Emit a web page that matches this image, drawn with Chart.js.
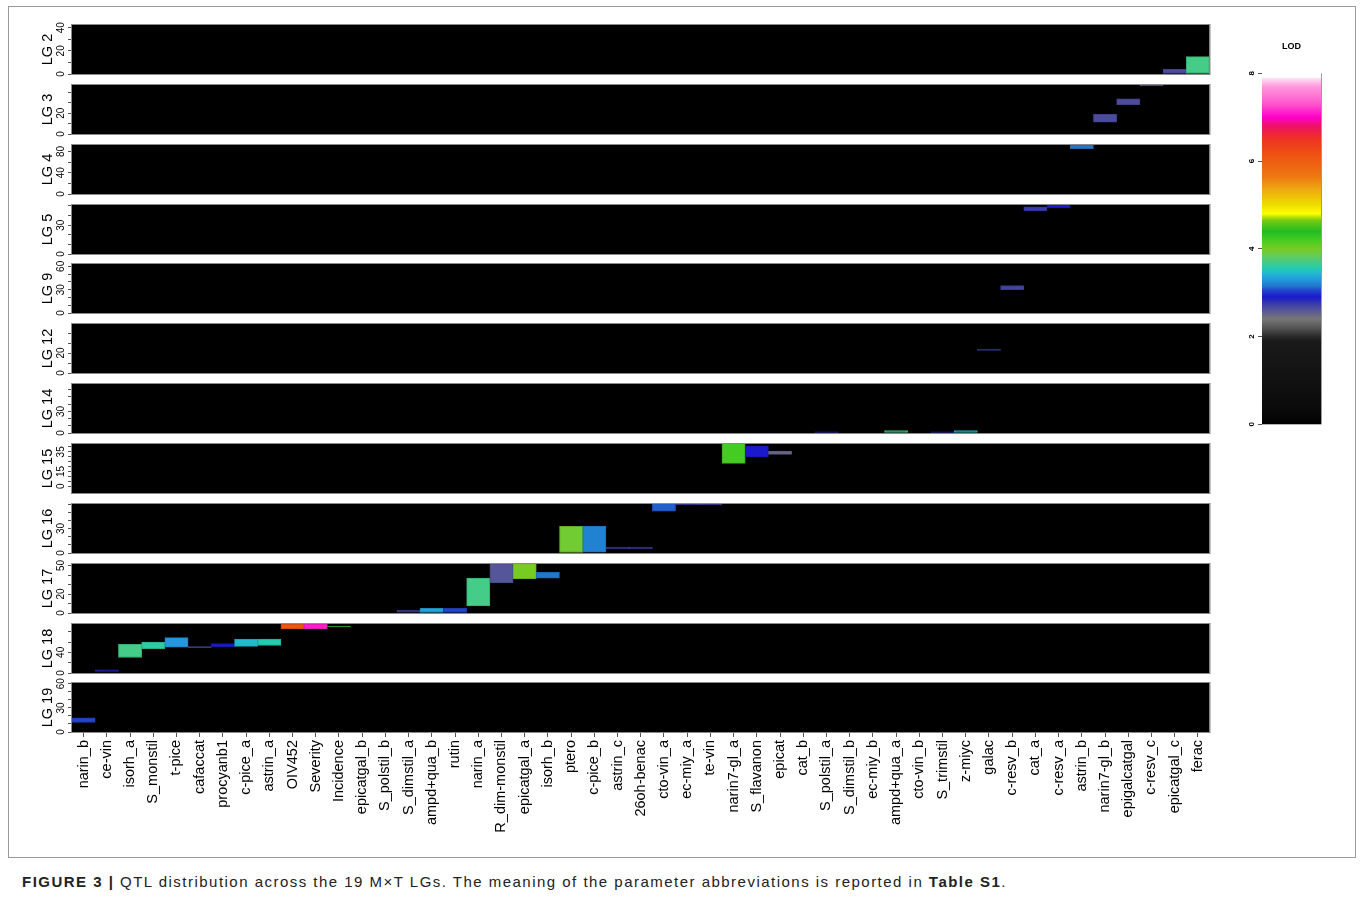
<!DOCTYPE html>
<html>
<head>
<meta charset="utf-8">
<script src="https://cdn.jsdelivr.net/npm/chart.js@4.4.1/dist/chart.umd.min.js"></script>
<style>
  body { margin: 0; background: #fff; }
  #page { position: relative; width: 1360px; height: 901px; overflow: hidden; font-family: "Liberation Sans", Arial, sans-serif; }
  #frame { position: absolute; left: 8px; top: 6px; width: 1346px; height: 850px; border: 1px solid #9a9a9a; }
  canvas { position: absolute; left: 0; }
  #caption { position: absolute; left: 22px; top: 873px; font-size: 15px; letter-spacing: 1.48px; color: #222; white-space: nowrap; }
</style>
</head>
<body>
<div id="page">
  <div id="frame"></div>
  <div id="caption"><b>FIGURE 3 |</b> QTL distribution across the 19 M×T LGs. The meaning of the parameter abbreviations is reported in <b>Table S1</b>.</div>
</div>
<script>
// x categories (parameters)
var categories = ['narin_b', 'ce-vin', 'isorh_a', 'S_monstil', 't-pice', 'cafaccat', 'procyanb1', 'c-pice_a',
  'astrin_a', 'OIV452', 'Severity', 'Incidence', 'epicatgal_b', 'S_polstil_b', 'S_dimstil_a', 'ampd+qua_b',
  'rutin', 'narin_a', 'R_dim-monstil', 'epicatgal_a', 'isorh_b', 'ptero', 'c-pice_b', 'astrin_c', '26oh-benac',
  'cto-vin_a', 'ec-miy_a', 'te-vin', 'narin7-gl_a', 'S_flavanon', 'epicat', 'cat_b', 'S_polstil_a', 'S_dimstil_b',
  'ec-miy_b', 'ampd+qua_a', 'cto-vin_b', 'S_trimstil', 'z-miyc', 'galac', 'c-resv_b', 'cat_a', 'c-resv_a',
  'astrin_b', 'narin7-gl_b', 'epigalcatgal', 'c-resv_c', 'epicatgal_c', 'ferac'];

// linkage groups: name, axis range (cM), tick step, labelled ticks
var lgNames = ['LG 2', 'LG 3', 'LG 4', 'LG 5', 'LG 9', 'LG 12', 'LG 14', 'LG 15', 'LG 16', 'LG 17', 'LG 18', 'LG 19'];
var lgMin = [0, 0, 0, 0, 0, 0, 0, -7, 0, 0, 0, 0];
var lgMax = [42.3, 47.3, 92, 51, 63, 49, 68, 43, 60, 51.6, 95, 61];
var lgStep = [10, 10, 20, 10, 10, 10, 10, 5, 10, 10, 20, 10];
var lgLabelled = [[0, 20, 40], [0, 20], [0, 40, 80], [0, 30], [0, 30, 60], [0, 20], [0, 30], [0, 15, 35],
  [0, 30], [0, 20, 50], [0, 40], [0, 30, 60]];

// QTL intervals per LG: [parameter, start cM, end cM, LOD]
var lg2 = [['epicatgal_c', 0, 4.3, 2.65], ['ferac', 0, 15, 3.7]];
var lg3 = [['narin7-gl_b', 11.3, 19, 2.65], ['epigalcatgal', 28.3, 34, 2.65], ['c-resv_c', 46.3, 47.3, 2.5]];
var lg4 = [['astrin_b', 85, 93, 3.15]];
var lg5 = [['cat_a', 44.8, 49, 2.75], ['c-resv_a', 48, 51.5, 2.9]];
var lg9 = [['c-resv_b', 30, 35.3, 2.7]];
var lg12 = [['galac', 22.5, 24, 2.75]];
var lg14 = [['S_polstil_a', 0, 1.5, 2.8], ['ampd+qua_a', 0, 3.5, 3.7], ['S_trimstil', 0, 1.5, 2.8], ['z-miyc', 0, 3.5, 3.45]];
var lg15 = [['narin7-gl_a', 23.3, 44, 4.2], ['S_flavanon', 30, 41.2, 2.9], ['epicat', 32.4, 35.8, 2.5]];
var lg16 = [['ptero', 0, 32.8, 3.95], ['c-pice_b', 1, 33, 3.2], ['astrin_c', 5, 7.4, 2.75], ['26oh-benac', 5, 7.4, 2.75],
  ['cto-vin_a', 51.3, 61, 3.1], ['ec-miy_a', 59, 60, 2.7], ['te-vin', 59, 60, 2.7]];
var lg17 = [['S_dimstil_a', 1, 3, 2.7], ['ampd+qua_b', 0, 5, 3.35], ['rutin', 0, 5, 3.05], ['narin_a', 7.4, 36.8, 3.7],
  ['R_dim-monstil', 31.6, 52, 2.6], ['epicatgal_a', 35.8, 52, 4.0], ['isorh_b', 36.8, 42.7, 3.15]];
var lg18 = [['ce-vin', 3, 6, 2.85], ['isorh_a', 30, 55.5, 3.7], ['S_monstil', 47, 60, 3.6], ['t-pice', 50, 68.5, 3.3],
  ['cafaccat', 49, 51, 2.65], ['procyanb1', 51, 57, 2.9], ['c-pice_a', 51.6, 66, 3.45], ['astrin_a', 53.6, 66, 3.55],
  ['OIV452', 85.4, 96, 6.1], ['Severity', 85.4, 96, 7.1], ['Incidence', 89.5, 90.5, 4.4]];
var lg19 = [['narin_b', 12, 17.5, 3.05]];
var lgBars = [lg2, lg3, lg4, lg5, lg9, lg12, lg14, lg15, lg16, lg17, lg18, lg19];

// LOD colour scale
var lodTicks = [0, 2, 4, 6, 8];
var lodStops = [[0, '#000000'], [0.3, '#0a0a0a'], [1.0, '#111111'], [1.9, '#1a1a1a'], [2.0, '#2a2a2a'],
  [2.2, '#555555'], [2.4, '#777777'], [2.5, '#666688'], [2.6, '#555599'], [2.75, '#3a3aaa'], [2.9, '#1a1acc'],
  [3.05, '#2244cc'], [3.15, '#2277cc'], [3.3, '#2299dd'], [3.45, '#22bbcc'], [3.55, '#22ccb0'], [3.7, '#44cc88'],
  [3.85, '#66cc55'], [4.0, '#77cc22'], [4.2, '#44cc22'], [4.4, '#22bb22'], [4.65, '#77cc11'], [4.8, '#ffff00'],
  [5.0, '#eedd00'], [5.35, '#eeaa11'], [5.65, '#ee7711'], [6.1, '#ee5511'], [6.5, '#ee3322'], [6.8, '#ee1166'],
  [7.0, '#ff00cc'], [7.3, '#ff55cc'], [7.7, '#ff99dd'], [7.9, '#ffe8f6']];

function hexRgb(h) { return [parseInt(h.substr(1, 2), 16), parseInt(h.substr(3, 2), 16), parseInt(h.substr(5, 2), 16)]; }
function lodColor(v, k) {
  k = k || 1;
  var i = 0;
  while (i < lodStops.length - 2 && v > lodStops[i + 1][0]) i++;
  var a = lodStops[i], b = lodStops[i + 1];
  var t = Math.max(0, Math.min(1, (v - a[0]) / (b[0] - a[0])));
  var ca = hexRgb(a[1]), cb = hexRgb(b[1]);
  var c = ca.map(function (x, j) { return Math.round((x + (cb[j] - x) * t) * k); });
  return 'rgb(' + c.join(',') + ')';
}

var FONT = '"Liberation Sans", Arial, sans-serif';
var PANEL_TOP = 25, PANEL_H = 49, PANEL_GAP = 59.85, PAD = 14, XAXIS_H = 118;

var panelBg = {
  id: 'panelBg',
  beforeDraw: function (chart) {
    var a = chart.chartArea, ctx = chart.ctx;
    ctx.save();
    ctx.fillStyle = '#000';
    ctx.fillRect(a.left, a.top, a.right - a.left, a.bottom - a.top);
    ctx.restore();
  },
  afterDraw: function (chart) {
    var a = chart.chartArea, ctx = chart.ctx;
    ctx.save();
    ctx.strokeStyle = '#8a8a8a';
    ctx.lineWidth = 1;
    ctx.strokeRect(a.left - 0.5, a.top - 0.5, a.right - a.left + 1, a.bottom - a.top + 1);
    ctx.restore();
  }
};

var page = document.getElementById('page');

lgBars.forEach(function (rows, idx) {
  var last = idx === lgBars.length - 1;
  var top = PANEL_TOP + idx * PANEL_GAP;
  var cv = document.createElement('canvas');
  cv.width = 1222;
  cv.height = PAD + PANEL_H + (last ? XAXIS_H : PAD);
  cv.style.top = (top - PAD) + 'px';
  page.appendChild(cv);
  var step = lgStep[idx], labelled = lgLabelled[idx];

  new Chart(cv, {
    type: 'bar',
    data: {
      labels: categories,
      datasets: [{
        data: rows.map(function (r) { return { x: r[0], y: [r[1], r[2]] }; }),
        backgroundColor: rows.map(function (r) { return lodColor(r[3]); }),
        borderColor: rows.map(function (r) { return lodColor(r[3], 0.85); }),
        borderWidth: 1,
        borderSkipped: false,
        categoryPercentage: 1,
        barPercentage: 1
      }]
    },
    options: {
      responsive: false,
      animation: false,
      events: [],
      layout: { autoPadding: false, padding: { top: PAD, bottom: last ? 0 : PAD, left: 0, right: 12.5 } },
      plugins: { legend: { display: false }, tooltip: { enabled: false } },
      scales: {
        x: {
          display: last,
          offset: true,
          grid: { display: true, offset: false, drawOnChartArea: false, tickLength: 5, color: '#555' },
          border: { display: false },
          ticks: { autoSkip: false, minRotation: 90, maxRotation: 90, padding: 3, color: '#000', font: { family: FONT, size: 14.5 } },
          afterFit: function (s) { if (last) s.height = XAXIS_H; }
        },
        y: {
          min: lgMin[idx],
          max: lgMax[idx],
          afterFit: function (s) { s.width = 72; },
          afterBuildTicks: function (s) {
            var t = [];
            for (var v = 0; v <= s.max + 1e-9; v += step) t.push({ value: v });
            s.ticks = t;
          },
          grid: { drawOnChartArea: false, tickLength: 4, color: '#555' },
          border: { display: false },
          ticks: {
            autoSkip: false, minRotation: 90, maxRotation: 90, crossAlign: 'center', padding: 1,
            color: '#000', font: { family: FONT, size: 10 },
            callback: function (v) { return labelled.indexOf(v) >= 0 ? String(v) : ''; }
          },
          title: { display: true, text: lgNames[idx], color: '#000', font: { family: FONT, size: 14.5 }, padding: { top: 39, bottom: 0 } }
        }
      }
    },
    plugins: [panelBg]
  });
});

// colour key
var keyCv = document.createElement('canvas');
keyCv.width = 110;
keyCv.height = 410;
keyCv.style.left = '1236px';
keyCv.style.top = '30px';
page.appendChild(keyCv);

var keyFill = {
  id: 'keyFill',
  beforeDatasetsDraw: function (chart) {
    var a = chart.chartArea, ctx = chart.ctx, y = chart.scales.y;
    var top = lodStops[lodStops.length - 1][0];
    var y0 = y.getPixelForValue(0), y1 = y.getPixelForValue(top);
    var g = ctx.createLinearGradient(0, y0, 0, y1);
    lodStops.forEach(function (s) { g.addColorStop(Math.min(1, s[0] / top), s[1]); });
    ctx.save();
    ctx.fillStyle = g;
    ctx.fillRect(a.left, y1, a.right - a.left, y0 - y1);
    ctx.strokeStyle = '#9a9a9a';
    ctx.beginPath();
    ctx.moveTo(a.right + 0.5, a.top);
    ctx.lineTo(a.right + 0.5, y0);
    ctx.stroke();
    ctx.restore();
  }
};

new Chart(keyCv, {
  type: 'bar',
  data: { labels: ['LOD'], datasets: [{ data: [] }] },
  options: {
    responsive: false,
    animation: false,
    events: [],
    layout: { autoPadding: false, padding: { top: 0, bottom: 15.7, left: 0, right: 25 } },
    plugins: { legend: { display: false }, tooltip: { enabled: false } },
    scales: {
      x: {
        position: 'top',
        grid: { display: false },
        border: { display: false },
        ticks: { display: false },
        title: { display: true, text: 'LOD', color: '#000', font: { family: FONT, size: 9, weight: 'bold' }, padding: { top: 11.6, bottom: 0 } },
        afterFit: function (s) { s.height = 43.3; }
      },
      y: {
        min: 0, max: 8,
        afterFit: function (s) { s.width = 26; },
        afterBuildTicks: function (s) { s.ticks = lodTicks.map(function (v) { return { value: v }; }); },
        grid: { drawOnChartArea: false, tickLength: 4, color: '#555' },
        border: { display: false },
        ticks: { minRotation: 90, maxRotation: 90, crossAlign: 'center', padding: 3.5, color: '#000', font: { family: FONT, size: 8, weight: 'bold' } }
      }
    }
  },
  plugins: [keyFill]
});
</script>
</body>
</html>
